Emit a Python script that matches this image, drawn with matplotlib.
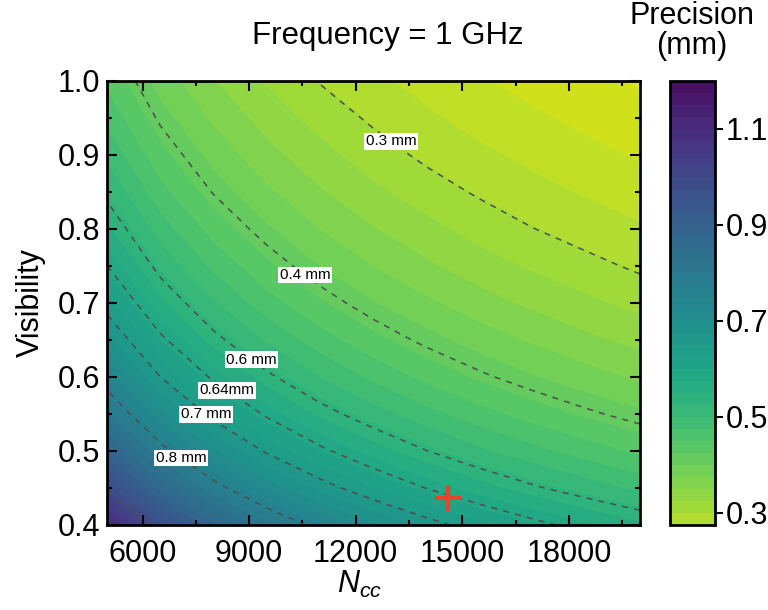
import numpy as np
import matplotlib
matplotlib.use('Agg')
import matplotlib.pyplot as plt
from matplotlib.colors import Normalize
from matplotlib.ticker import MultipleLocator

plt.rcParams['font.family'] = ['Liberation Sans', 'DejaVu Sans']
plt.rcParams['mathtext.fontset'] = 'custom'
plt.rcParams['mathtext.it'] = 'Liberation Sans:italic'
plt.rcParams['mathtext.rm'] = 'Liberation Sans'
plt.rcParams['lines.dashed_pattern'] = [4, 4]

# grid
n_cc = [5000, 6500, 8000, 9500, 11000, 12500, 14000, 15500, 17000, 18500, 20000]
visibility = [0.40, 0.45, 0.50, 0.55, 0.60, 0.65, 0.70, 0.75, 0.80, 0.85, 0.90, 0.95, 1.00]

# precision (mm), one row per visibility value
precision = [
    [1.110, 0.974, 0.878, 0.805, 0.748, 0.702, 0.663, 0.631, 0.602, 0.577, 0.555],
    [0.987, 0.865, 0.780, 0.716, 0.665, 0.624, 0.590, 0.560, 0.535, 0.513, 0.493],
    [0.888, 0.779, 0.702, 0.644, 0.599, 0.562, 0.531, 0.504, 0.482, 0.462, 0.444],
    [0.807, 0.708, 0.638, 0.586, 0.544, 0.511, 0.483, 0.459, 0.438, 0.420, 0.404],
    [0.740, 0.649, 0.585, 0.537, 0.499, 0.468, 0.442, 0.420, 0.401, 0.385, 0.370],
    [0.683, 0.599, 0.540, 0.496, 0.461, 0.432, 0.408, 0.388, 0.371, 0.355, 0.342],
    [0.634, 0.556, 0.502, 0.460, 0.428, 0.401, 0.379, 0.360, 0.344, 0.330, 0.317],
    [0.592, 0.519, 0.468, 0.430, 0.399, 0.374, 0.354, 0.336, 0.321, 0.308, 0.296],
    [0.555, 0.487, 0.439, 0.403, 0.374, 0.351, 0.332, 0.315, 0.301, 0.289, 0.278],
    [0.522, 0.458, 0.413, 0.379, 0.352, 0.330, 0.312, 0.297, 0.283, 0.272, 0.261],
    [0.493, 0.433, 0.390, 0.358, 0.333, 0.312, 0.295, 0.280, 0.268, 0.257, 0.247],
    [0.467, 0.410, 0.370, 0.339, 0.315, 0.296, 0.279, 0.265, 0.254, 0.243, 0.234],
    [0.444, 0.389, 0.351, 0.322, 0.299, 0.281, 0.265, 0.252, 0.241, 0.231, 0.222],
]

# dashed lines and their labels
line_levels = [0.3005, 0.4148, 0.5304, 0.5913, 0.6488, 0.764, 1.0]
line_labels = ['0.3 mm', '0.4 mm', '0.6 mm', '0.64mm', '0.7 mm', '0.8 mm', '']
label_pos = [(12977, 0.917), (10474, 0.7315), (9068, 0.623),
             (8421, 0.585), (7775, 0.549), (6988, 0.484)]

# operating point
point_n = 14600
point_v = 0.436

cbar_ticks = [0.3, 0.5, 0.7, 0.9, 1.1]

fig = plt.figure(figsize=(7.68, 6.10), dpi=100)
ax = fig.add_axes([107/768, 85/610, 533/768, 444/610])
cax = fig.add_axes([670/768, 85/610, 45/768, 444/610])

X, Y = np.meshgrid(n_cc, visibility)
Z = np.array(precision)

fill_levels = np.arange(0.2, 1.2001, 0.025)
norm = Normalize(vmin=0.16, vmax=1.23)
cf = ax.contourf(X, Y, Z, levels=fill_levels, cmap='viridis_r', norm=norm)

cs = ax.contour(X, Y, Z, levels=line_levels, colors='#4d4d4d',
                linewidths=1.1, linestyles='dashed')
txts = ax.clabel(cs, levels=line_levels[:6], inline=False, fontsize=11,
                 fmt=dict(zip(line_levels, line_labels)),
                 manual=label_pos, colors='black')
for t in txts:
    t.set_rotation(0)
    t.set_bbox(dict(facecolor='white', edgecolor='none', pad=1.0))

ax.plot([point_n], [point_v], marker='+', ms=19, mew=3, color='#e8432e',
        linestyle='none', zorder=5)

ax.set_xlim(5000, 20000)
ax.set_ylim(0.4, 1.0)
ax.xaxis.set_major_locator(MultipleLocator(3000))
ax.xaxis.set_minor_locator(MultipleLocator(1500))
ax.yaxis.set_major_locator(MultipleLocator(0.1))
ax.yaxis.set_minor_locator(MultipleLocator(0.05))
ax.tick_params(which='both', direction='in', top=True, right=True,
               width=1.5, labelsize=22)
ax.tick_params(which='major', length=7)
ax.tick_params(which='minor', length=3.5)
ax.tick_params(axis='x', pad=10)
ax.tick_params(axis='y', pad=5)
for s in ax.spines.values():
    s.set_linewidth(2)

ax.set_ylabel('Visibility', fontsize=22)
ax.yaxis.set_label_coords(-0.115, 0.5)
ax.set_xlabel('$N_{cc}$', fontsize=22)
ax.xaxis.set_label_coords(0.474, -0.1)

fig.text(388/768, 1 - 36/610, 'Frequency = 1 GHz', fontsize=22.5,
         ha='center', va='center')

cb = fig.colorbar(cf, cax=cax)
cb.set_ticks(cbar_ticks)
cax.set_ylim(0.275, 1.2)
cb.outline.set_linewidth(2)
cax.tick_params(direction='out', length=6, width=1.5, labelsize=22, pad=2)
fig.text(692/768, 1 - 31/610, 'Precision\n(mm)', fontsize=22,
         ha='center', va='center', linespacing=1.0)

fig.savefig('out.png', dpi=100)
